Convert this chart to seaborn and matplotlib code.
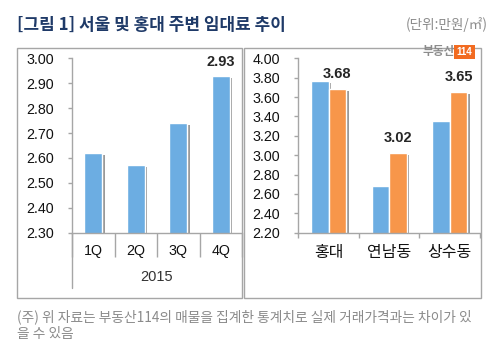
import matplotlib
matplotlib.use("Agg")
import matplotlib.pyplot as plt
import matplotlib.patheffects as pe
from matplotlib.patches import Rectangle
from matplotlib.ticker import FixedLocator, FormatStrFormatter
import seaborn as sns
import pandas as pd

# ---------------- data ----------------
quarters = ["1Q", "2Q", "3Q", "4Q"]
seoul_rent = [2.62, 2.57, 2.74, 2.93]
year_label = "2015"

areas = ["홍대", "연남동", "상수동"]
rent_prev = [3.77, 2.68, 3.35]
rent_curr = [3.68, 3.02, 3.65]

left_ticks = [2.30, 2.40, 2.50, 2.60, 2.70, 2.80, 2.90, 3.00]
right_ticks = [2.20, 2.40, 2.60, 2.80, 3.00, 3.20, 3.40, 3.60, 3.80, 4.00]

title = "[그림 1] 서울 및 홍대 주변 임대료 추이"
unit = "(단위:만원/㎡)"
note1 = "(주) 위 자료는 부동산114의 매물을 집계한 통계치로 실제 거래가격과는 차이가 있"
note2 = "을 수 있음"

BLUE = "#6CADE2"
ORANGE = "#F7964A"
GRID = "#A6A6A6"

sns.set_style("white")
plt.rcParams["font.family"] = ["Liberation Sans", "Noto Sans CJK KR", "DejaVu Sans"]
KR = ["Noto Sans CJK KR", "DejaVu Sans"]

W, H = 500, 358
fig = plt.figure(figsize=(W / 100, H / 100), dpi=100)


def fx(x):
    return x / W


def fy(y):
    return 1 - y / H


ax_top, ax_bot = 58.3, 232.7
axh = (ax_bot - ax_top) / H
ax1 = fig.add_axes([fx(72), fy(ax_bot), (242 - 72) / W, axh])
ax2 = fig.add_axes([fx(298.3), fy(ax_bot), (480 - 298.3) / W, axh])

shadow = [pe.SimplePatchShadow(offset=(1.8, -1.4), shadow_rgbFace="#6f6f6f", alpha=0.7), pe.Normal()]

# ---- left chart ----
df1 = pd.DataFrame({"q": quarters, "v": seoul_rent})
sns.barplot(data=df1, x="q", y="v", color=BLUE, width=0.43, saturation=1, ax=ax1)
ax1.set_ylim(left_ticks[0], left_ticks[-1])
ax1.set_xlim(-0.5, len(quarters) - 0.5)
for p in ax1.patches:
    p.set_path_effects(shadow)
lbls = ["" for _ in seoul_rent]
lbls[-1] = f"{seoul_rent[-1]:.2f}"
ax1.bar_label(ax1.containers[0], labels=lbls, padding=5, fontsize=10.5, fontweight="bold")

# ---- right chart ----
df2 = pd.DataFrame({
    "area": areas * 2,
    "v": rent_prev + rent_curr,
    "s": ["prev"] * 3 + ["curr"] * 3,
})
sns.barplot(data=df2, x="area", y="v", hue="s", palette=[BLUE, ORANGE], width=0.58,
            saturation=1, legend=False, ax=ax2)
ax2.set_ylim(right_ticks[0], right_ticks[-1])
ax2.set_xlim(-0.5, len(areas) - 0.5)
for p in ax2.patches:
    p.set_path_effects(shadow)
ax2.bar_label(ax2.containers[1], labels=[f"{v:.2f}" for v in rent_curr], padding=6,
              fontsize=10.5, fontweight="bold")

# ---- axes styling ----
for ax, ticks, n in [(ax1, left_ticks, len(quarters)), (ax2, right_ticks, len(areas))]:
    ax.set_xlabel("")
    ax.set_ylabel("")
    ax.set_facecolor("none")
    for s in ["top", "right"]:
        ax.spines[s].set_visible(False)
    for s in ["left", "bottom"]:
        ax.spines[s].set_color(GRID)
        ax.spines[s].set_linewidth(1)
    ax.yaxis.set_major_locator(FixedLocator(ticks))
    ax.yaxis.set_major_formatter(FormatStrFormatter("%.2f"))
    ax.tick_params(axis="y", which="major", length=3, width=1, color=GRID, direction="out",
                   pad=10, labelsize=10.3, labelcolor="#111111", left=True)
    ax.xaxis.set_minor_locator(FixedLocator([i - 0.5 for i in range(n + 1)]))
    ax.tick_params(axis="x", which="major", length=0, labelcolor="#111111")

ax1.tick_params(axis="x", which="minor", length=17.5, width=1, color=GRID, direction="out", bottom=True)
ax1.tick_params(axis="x", which="major", labelsize=10.3, pad=8)
ax2.tick_params(axis="x", which="minor", length=3.6, width=1, color=GRID, direction="out", bottom=True)
ax2.tick_params(axis="x", which="major", labelsize=11.5, pad=8)
for t in ax2.get_xticklabels():
    t.set_fontfamily(KR)

# extend left spine of left chart down for the year level
ax1.plot([0, 0], [0, -(288 - ax_bot) / (ax_bot - ax_top)], transform=ax1.transAxes,
         color=GRID, lw=1, clip_on=False)
ax1.text(0.5, -(277 - ax_bot) / (ax_bot - ax_top), year_label, transform=ax1.transAxes,
         ha="center", va="center", fontsize=10.5, color="#333333")

# ---- panel borders ----
for x0, x1 in [(17, 242), (244, 481)]:
    fig.add_artist(Rectangle((fx(x0), fy(298)), (x1 - x0) / W, (298 - 48) / H,
                             transform=fig.transFigure, fill=False, edgecolor=GRID, lw=1))

# ---- texts ----
fig.text(fx(17), fy(25), title, ha="left", va="center", fontsize=12.2, fontweight="bold",
         color="#1F3A68", family=KR)
fig.text(fx(488), fy(25), unit, ha="right", va="center", fontsize=9.8, color="#8a8a8a",
         family=KR)
fig.text(fx(17), fy(317), note1, ha="left", va="center", fontsize=9.9, color="#8a8a8a", family=KR)
fig.text(fx(17), fy(334), note2, ha="left", va="center", fontsize=9.9, color="#8a8a8a", family=KR)

# logo
fig.text(fx(455), fy(52), "부동산", ha="right", va="center", fontsize=8.5, fontweight="bold",
         color="#8c8c8c", family=KR)
fig.text(fx(464.5), fy(52), "114", ha="center", va="center", fontsize=7, fontweight="bold",
         color="white", bbox=dict(boxstyle="square,pad=0.25", fc="#F26B21", ec="none"))

fig.savefig("out.png", dpi=100, facecolor="white")
